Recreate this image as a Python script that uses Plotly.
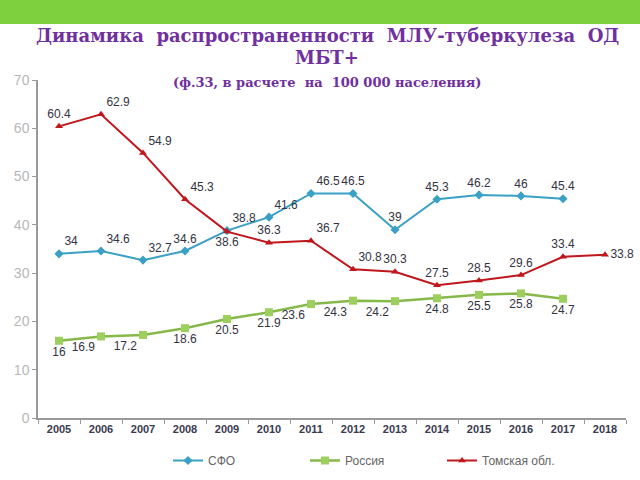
import plotly.graph_objects as go

years = [str(y) for y in range(2005, 2019)]
sfo = [34, 34.6, 32.7, 34.6, 38.8, 41.6, 46.5, 46.5, 39, 45.3, 46.2, 46, 45.4, None]
russia = [16, 16.9, 17.2, 18.6, 20.5, 21.9, 23.6, 24.3, 24.2, 24.8, 25.5, 25.8, 24.7, None]
tomsk = [60.4, 62.9, 54.9, 45.3, 38.6, 36.3, 36.7, 30.8, 30.3, 27.5, 28.5, 29.6, 33.4, 33.8]

series_names = ["СФО", "Россия", "Томская обл."]

pos_sfo = ["top right", "top right", "top right", "top center", "top right", "top right", "top right",
           "top center", "top center", "top center", "top center", "top center", "top center", "top center"]
pos_rus = ["bottom center", "bottom left", "bottom left", "bottom center", "bottom center", "bottom center",
           "bottom left", "bottom left", "bottom left", "bottom center", "bottom center", "bottom center",
           "bottom center", "bottom center"]
pos_tom = ["top center", "top right", "top right", "top right", "bottom center", "top center", "top right",
           "top right", "top center", "top center", "top center", "top center", "top center", "middle right"]

lab_font = dict(family="Liberation Sans", size=12, color="#333342")

def fmt(v):
    if v is None:
        return ""
    return ("%g" % v)

fig = go.Figure()
fig.add_trace(go.Scatter(
    x=years, y=sfo, name=series_names[0], mode="lines+markers+text",
    line=dict(color="#3aa0c4", width=2), marker=dict(symbol="diamond", size=7, color="#3aa0c4"),
    text=[fmt(v) for v in sfo], textposition=pos_sfo, textfont=lab_font, cliponaxis=False))
fig.add_trace(go.Scatter(
    x=years, y=russia, name=series_names[1], mode="lines+markers+text",
    line=dict(color="#86b84a", width=2.5), marker=dict(symbol="square", size=8, color="#9ccf5e"),
    text=[fmt(v) for v in russia], textposition=pos_rus, textfont=lab_font, cliponaxis=False))
fig.add_trace(go.Scatter(
    x=years, y=tomsk, name=series_names[2], mode="lines+markers+text",
    line=dict(color="#c0161c", width=2), marker=dict(symbol="triangle-up", size=7, color="#c0161c"),
    text=[fmt(v) for v in tomsk], textposition=pos_tom, textfont=lab_font, cliponaxis=False))

# plot area pixels: left 38, right 626, top 80, bottom 418
L, R, T, B = 38, 626, 80, 418
W, H = R - L, B - T

def px_x(p):
    return (p - L) / W

def px_y(p):
    return (B - p) / H

fig.add_shape(type="rect", xref="paper", yref="paper",
              x0=px_x(-2), x1=px_x(642), y0=px_y(24), y1=px_y(-2),
              fillcolor="#7ed03e", line=dict(width=0), layer="below")

title_font = dict(family="DejaVu Serif", size=18, color="#7030a0")
fig.add_annotation(xref="paper", yref="paper", x=px_x(327), y=px_y(35),
                   text="<b>Динамика  распространенности  МЛУ-туберкулеза  ОД</b>",
                   showarrow=False, font=title_font, xanchor="center", yanchor="middle")
fig.add_annotation(xref="paper", yref="paper", x=px_x(327), y=px_y(58),
                   text="<b>МБТ+</b>", showarrow=False, font=title_font,
                   xanchor="center", yanchor="middle")
fig.add_annotation(xref="paper", yref="paper", x=px_x(327), y=px_y(82),
                   text="<b>(ф.33, в расчете  на  100 000 населения)</b>", showarrow=False,
                   font=dict(family="DejaVu Serif", size=13, color="#7030a0"),
                   xanchor="center", yanchor="middle")

fig.update_layout(
    width=640, height=480,
    margin=dict(l=L, r=640 - R, t=T, b=480 - B, autoexpand=False),
    paper_bgcolor="white", plot_bgcolor="white",
    showlegend=True,
    legend=dict(orientation="h", xref="container", yref="container",
                x=168 / 640, y=1 - 446 / 480, xanchor="left", yanchor="top",
                font=dict(family="Liberation Sans", size=12, color="#666666"),
                entrywidth=92, entrywidthmode="pixels", itemwidth=30,
                bgcolor="rgba(0,0,0,0)"),
    xaxis=dict(type="category", tickson="boundaries", ticks="outside", ticklen=4,
               tickcolor="#999999", showline=True, linecolor="#999999", linewidth=1.5,
               showgrid=False, range=[-0.5, 13.5],
               tickfont=dict(family="Liberation Sans", size=11, color="#3a3a50", weight="bold")),
    yaxis=dict(range=[0, 70], dtick=10, ticks="outside", ticklen=4, tickcolor="#999999",
               showline=True, linecolor="#999999", linewidth=1.5, showgrid=False, zeroline=False,
               tickfont=dict(family="Liberation Sans", size=14, color="#b8b8b8")),
)

fig.write_html("out.html", config={"displayModeBar": False},
               post_script="document.body.style.margin='0';document.body.style.overflow='hidden';")
